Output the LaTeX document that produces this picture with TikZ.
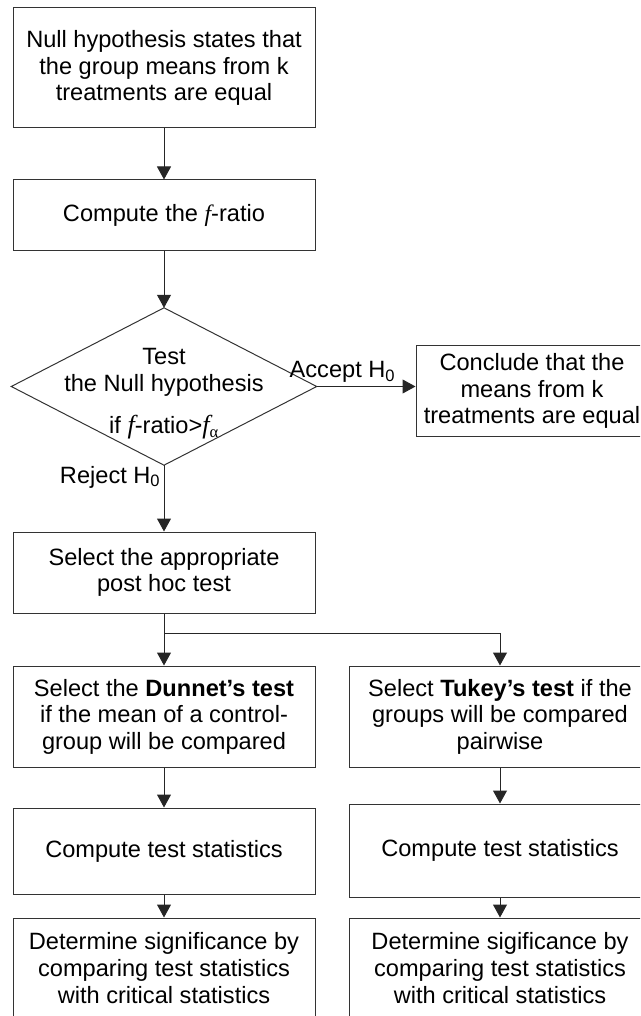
\documentclass[tikz,border=0pt]{standalone}
\usepackage{fontspec}
\setmainfont{Liberation Sans}
\newfontfamily\fitl{Liberation Serif}[ItalicFont={Liberation Serif Italic}]
\usetikzlibrary{arrows.meta}
\tikzset{
  box/.style={draw=black!80, line width=1pt, align=center, minimum width=302, inner sep=0pt},
  arr/.style={-{Triangle[length=13pt,width=14pt]}, line width=1pt, draw=black!85},
}
\newcommand{\fr}{{\fitl\itshape f}}
\begin{document}
\begin{tikzpicture}
[x=1pt, y=-1pt, font=\fontsize{23.6}{26.6}\selectfont]
\clip (0,0) rectangle (640,1016);
\node[box, minimum height=120] (null) at (164,68) {Null hypothesis states that\\the group means from k\\treatments are equal};
\node[box, minimum height=70] (ratio) at (164,215) {Compute the \fr-ratio};
\node[minimum width=305, minimum height=157, align=center, inner sep=0pt] (test) at (164,386.5) {\rule{0pt}{31pt}Test\\the Null hypothesis\\[16pt]if {\fontsize{26}{26}\selectfont\fr}-ratio>{\fontsize{26}{26}\selectfont\fr}\textsubscript{\fitl α}};
\draw[line width=1pt, draw=black!80] (test.north) -- (test.east) -- (test.south) -- (test.west) -- cycle;
\node[box, minimum width=232, minimum height=91] (concl) at (532,391) {Conclude that the\\means from k\\treatments are equal};
\node[box, minimum height=81] (post) at (164,572.5) {Select the appropriate\\post hoc test};
\node[box, minimum height=101] (dun) at (164,716.5) {Select the \textbf{Dunnet’s test}\\if the mean of a control-\\group will be compared};
\node[box, minimum height=101] (tuk) at (500,716.5) {Select \textbf{Tukey’s test} if the\\groups will be compared\\pairwise};
\node[box, minimum height=86] (dcomp) at (164,851) {Compute test statistics};
\node[box, minimum height=93] (tcomp) at (500,850.5) {Compute test statistics};
\node[box, minimum height=100] (dsig) at (164,968) {Determine significance by\\comparing test statistics\\with critical statistics};
\node[box, minimum height=100] (tsig) at (500,968) {Determine sigificance by\\comparing test statistics\\with critical statistics};
\coordinate (split) at (164,633);
\draw[arr] (null.south) -- (ratio.north);
\draw[arr] (ratio.south) -- (test.north);
\draw[arr] (test.east) -- (test.east -| concl.west) node[pos=0.26, above] {Accept H\textsubscript{0}};
\draw[arr] (test.south) -- (post.north) node[pos=0.18, left] {Reject H\textsubscript{0}};
\draw[arr] (post.south) -- (dun.north);
\draw[arr] (split) -| (tuk.north);
\draw[arr] (dun.south) -- (dcomp.north);
\draw[arr] (tuk.south) -- (tcomp.north);
\draw[arr] (dcomp.south) -- (dsig.north);
\draw[arr] (tcomp.south) -- (tsig.north);
\end{tikzpicture}
\end{document}
